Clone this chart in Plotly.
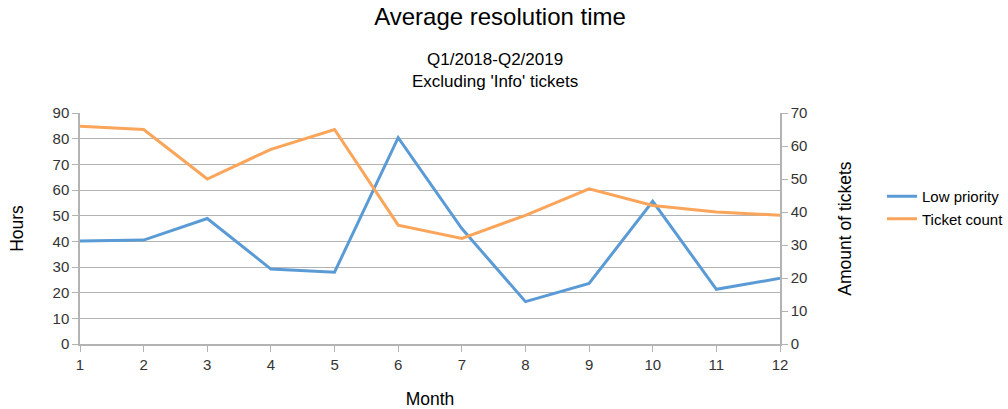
import plotly.graph_objects as go

months = list(range(1, 13))
low_priority = [40.1, 40.5, 48.9, 29.2, 28.0, 80.4, 45.0, 16.5, 23.6, 55.6, 21.3, 25.6]
ticket_count = [66, 65, 50, 59, 65, 36, 32, 39, 47, 42, 40, 39]

FONT = "Liberation Sans"
blue = "#5b9bd5"
orange = "#fba55a"
gray = "#b3b3b3"
tick_col = "#333333"

L, R, T, B = 80, 228, 113, 65
W, H = 1008, 409
plot_w = W - L - R
plot_h = H - T - B

fig = go.Figure()
fig.add_trace(go.Scatter(x=months, y=low_priority, name="Low priority", mode="lines",
                         line=dict(color=blue, width=3), yaxis="y"))
fig.add_trace(go.Scatter(x=months, y=ticket_count, name="Ticket count", mode="lines",
                         line=dict(color=orange, width=3), yaxis="y2"))

fig.update_layout(
    width=W, height=H,
    margin=dict(l=L, r=R, t=T, b=B, autoexpand=False),
    paper_bgcolor="white", plot_bgcolor="white",
    font=dict(family=FONT, size=15, color=tick_col),
    title=dict(text="Average resolution time", x=500 / W, xref="container", xanchor="center",
               y=1 - 17 / H, yanchor="middle", yref="container",
               font=dict(family=FONT, size=24, color="#000000")),
    xaxis=dict(range=[1, 12], tickvals=months, showgrid=False, automargin=False,
               showline=True, linecolor=gray, linewidth=1.5,
               ticks="outside", ticklen=6, tickcolor=gray,
               tickfont=dict(size=15, color=tick_col),
               title=dict(text="Month", font=dict(size=17.5, color="#000000"), standoff=24),
               zeroline=False),
    yaxis=dict(range=[0, 90], dtick=10, showgrid=True, gridcolor=gray, gridwidth=1,
               automargin=False,
               showline=True, linecolor=gray, linewidth=1.5,
               ticks="outside", ticklen=6, tickcolor=gray,
               tickfont=dict(size=15, color=tick_col),
               title=dict(text="Hours", font=dict(size=17.5, color="#000000"), standoff=24),
               zeroline=False),
    yaxis2=dict(range=[0, 70], dtick=10, overlaying="y", side="right", showgrid=False,
                automargin=False,
                showline=True, linecolor=gray, linewidth=1.5,
                ticks="outside", ticklen=6, tickcolor=gray,
                tickfont=dict(size=15, color=tick_col),
                title=dict(text="Amount of tickets", font=dict(size=17.5, color="#000000"), standoff=32),
                zeroline=False),
    legend=dict(x=(882 - L) / plot_w, xanchor="left", y=(H - B - 180) / plot_h, yanchor="top",
                font=dict(size=15, color="#000000"), tracegroupgap=0,
                bgcolor="rgba(0,0,0,0)"),
    annotations=[
        dict(text="Q1/2018-Q2/2019<br>Excluding 'Info' tickets",
             x=(495 - L) / plot_w, xref="paper", xanchor="center",
             y=1 + (T - 70) / plot_h, yref="paper", yanchor="middle",
             showarrow=False, font=dict(family=FONT, size=17, color="#000000")),
    ],
)

fig.write_html("out.html")
